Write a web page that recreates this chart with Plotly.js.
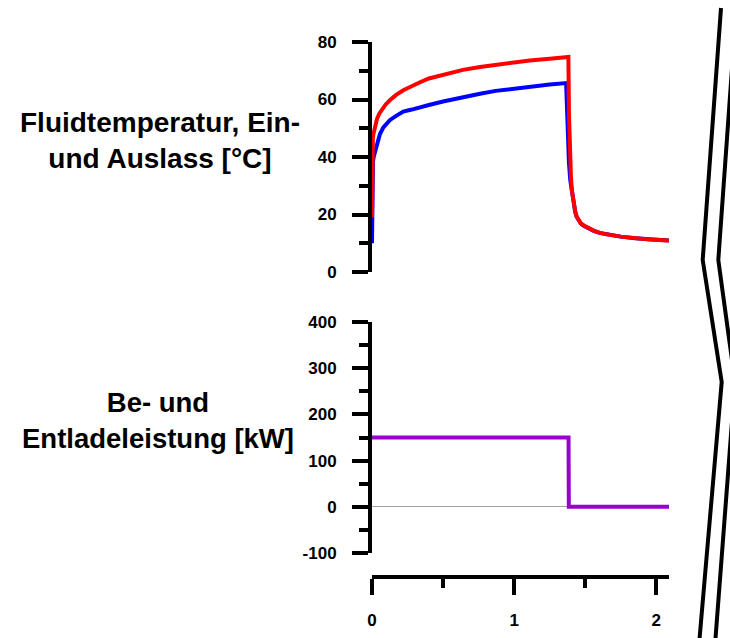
<!DOCTYPE html>
<html>
<head>
<meta charset="utf-8">
<script src="https://cdn.plot.ly/plotly-3.0.1.min.js"></script>
<style>html,body{margin:0;padding:0;background:#fff;}#chart{width:730px;height:638px;}</style>
</head>
<body>
<div id="chart"></div>
<script>
// Data
const outletTime = [0, 0.001, 0.003, 0.007, 0.013, 0.021, 0.035, 0.056, 0.08, 0.1, 0.127, 0.17, 0.22, 0.28, 0.338, 0.4, 0.5, 0.64, 0.76, 0.87, 1.0, 1.11, 1.25, 1.366,
  1.372, 1.378, 1.386, 1.395, 1.406, 1.412, 1.42, 1.43, 1.44, 1.455, 1.47, 1.49, 1.52, 1.56, 1.6, 1.65, 1.75, 1.85, 1.95, 2.09];
const outletTemp = [10, 28, 35, 38.5, 40.3, 41.8, 45, 48, 50.3, 51.6, 52.9, 54.3, 55.8, 56.5, 57.4, 58.1, 59.3, 60.9, 62, 63, 63.8, 64.6, 65.2, 65.7,
  56, 46, 38, 32, 28.3, 25.8, 23.3, 20.9, 19.2, 17.7, 16.8, 16.1, 15.2, 14.3, 13.6, 13.1, 12.3, 11.7, 11.3, 11];

const inletTime = [0, 0.001, 0.003, 0.006, 0.01, 0.016, 0.025, 0.035, 0.05, 0.07, 0.095, 0.127, 0.17, 0.22, 0.28, 0.338, 0.4, 0.5, 0.64, 0.76, 0.87, 1.0, 1.11, 1.25, 1.382,
  1.386, 1.39, 1.395, 1.40, 1.406, 1.412, 1.42, 1.43, 1.44, 1.455, 1.47, 1.49, 1.52, 1.56, 1.6, 1.65, 1.75, 1.85, 1.95, 2.09];
const inletTemp = [19, 38, 44, 46.5, 48, 49.6, 51.5, 53.2, 55, 56.7, 58.2, 59.8, 61.6, 63.2, 64.7, 66, 67.3, 68.7, 70.3, 71.3, 72.1, 72.9, 73.6, 74.2, 74.8,
  55, 45, 38, 33, 28.5, 26, 23.5, 21, 19.3, 17.8, 16.9, 16.2, 15.3, 14.4, 13.7, 13.1, 12.3, 11.7, 11.3, 11];

const powerTime = [0, 1.383, 1.385, 2.09];
const powerKW = [150, 150, 0, 0];

const tempTicks = [0, 20, 40, 60, 80];
const powerTicks = [-100, 0, 100, 200, 300, 400];
const powerTickText = ['-100', '0', '100', '200', '300', '400'];
const timeTicks = [0, 1, 2];
const timeTickText = ['0', '1', '2'];

const titleTemp = 'Fluidtemperatur, Ein-<br>und Auslass [°C]';
const titlePower = 'Be- und<br>Entladeleistung [kW]';

const FONT = 'Liberation Sans, Arial, sans-serif';
const tickFont = {family: FONT, size: 17, color: '#000', weight: 'bold'};

const traces = [
  {x: outletTime, y: outletTemp, type: 'scatter', mode: 'lines', line: {color: '#0000ff', width: 4}, xaxis: 'x', yaxis: 'y', cliponaxis: false, hoverinfo: 'skip'},
  {x: inletTime, y: inletTemp, type: 'scatter', mode: 'lines', line: {color: '#ff0000', width: 4}, xaxis: 'x', yaxis: 'y', cliponaxis: false, hoverinfo: 'skip'},
  {x: powerTime, y: powerKW, type: 'scatter', mode: 'lines', line: {color: '#9900cc', width: 4}, xaxis: 'x', yaxis: 'y2', cliponaxis: false, hoverinfo: 'skip'}
];

const W = 730, H = 638;
const px = v => v / W;
const py = v => 1 - v / H;

const yAxisCommon = {
  showgrid: false, showline: true, linecolor: '#000', linewidth: 4,
  ticks: 'outside', ticklen: 16, tickwidth: 4, tickcolor: '#000',
  tickfont: tickFont, ticklabelstandoff: 12, anchor: 'x', layer: 'below traces',
  fixedrange: true
};

const layout = {
  width: W, height: H,
  margin: {l: 0, r: 0, t: 0, b: 0},
  paper_bgcolor: '#fff', plot_bgcolor: 'rgba(0,0,0,0)',
  showlegend: false,
  xaxis: {
    domain: [px(372), px(669)], range: [0, 2.09],
    anchor: 'free', position: py(577),
    showgrid: false, zeroline: false, showline: true, linecolor: '#000', linewidth: 4,
    ticks: 'outside', ticklen: 16, tickwidth: 4, tickcolor: '#000',
    tickvals: timeTicks, ticktext: timeTickText, tickfont: tickFont, ticklabelstandoff: 11,
    minor: {dtick: 0.5, ticks: 'outside', ticklen: 9, tickwidth: 4, tickcolor: '#000', showgrid: false},
    layer: 'below traces', fixedrange: true
  },
  yaxis: Object.assign({}, yAxisCommon, {
    domain: [py(272), py(42)], range: [0, 80], zeroline: false,
    tickvals: tempTicks,
    minor: {dtick: 10, ticks: 'outside', ticklen: 9, tickwidth: 4, tickcolor: '#000', showgrid: false}
  }),
  yaxis2: Object.assign({}, yAxisCommon, {
    domain: [py(553), py(322)], range: [-100, 400],
    zeroline: true, zerolinecolor: '#a0a0a0', zerolinewidth: 1,
    tickvals: powerTicks, ticktext: powerTickText,
    minor: {dtick: 50, ticks: 'outside', ticklen: 9, tickwidth: 4, tickcolor: '#000', showgrid: false}
  }),
  annotations: [
    {text: titleTemp, xref: 'paper', yref: 'paper', x: px(160), y: py(140), xanchor: 'center', yanchor: 'middle', showarrow: false, align: 'center',
     font: {family: FONT, size: 28, color: '#000', weight: 'bold'}},
    {text: titlePower, xref: 'paper', yref: 'paper', x: px(158), y: py(420), xanchor: 'center', yanchor: 'middle', showarrow: false, align: 'center',
     font: {family: FONT, size: 27.5, color: '#000', weight: 'bold'}}
  ],
  shapes: [
    {type: 'path', xref: 'paper', yref: 'paper', line: {color: '#000', width: 4},
     path: `M ${px(721)},${py(8)} L ${px(702.7)},${py(260)} L ${px(721.7)},${py(382)} L ${px(699)},${py(645)}`},
    {type: 'path', xref: 'paper', yref: 'paper', line: {color: '#000', width: 4},
     path: `M ${px(736.3)},${py(8)} L ${px(718.3)},${py(260)} L ${px(735)},${py(382)} L ${px(715)},${py(645)}`}
  ]
};

Plotly.newPlot('chart', traces, layout, {staticPlot: true, displayModeBar: false});
</script>
</body>
</html>
